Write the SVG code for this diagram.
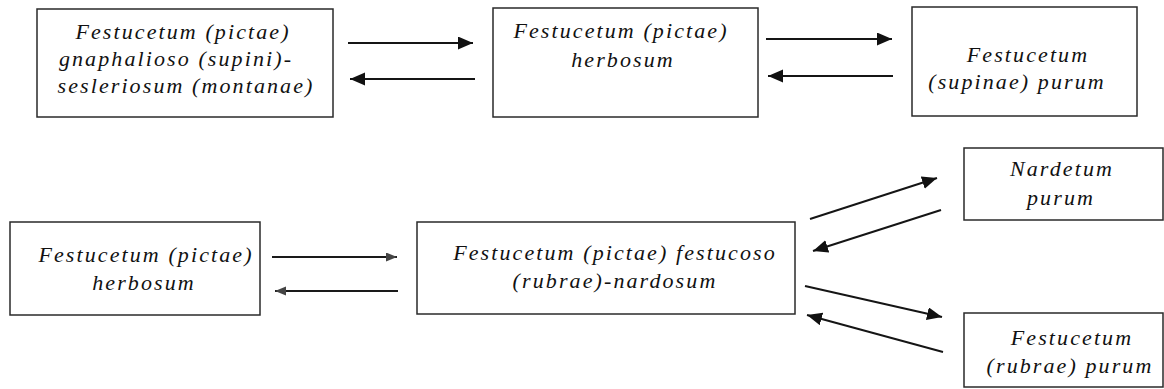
<svg xmlns="http://www.w3.org/2000/svg" width="1164" height="389" viewBox="0 0 1164 389">
<style>
  .box { fill: #ffffff; stroke: #2a2a2a; stroke-width: 1.5; }
  .lbl { font-family: "Liberation Serif", "Times New Roman", serif; font-style: italic; font-size: 22px; letter-spacing: 2.1px; fill: #111111; text-anchor: middle; }
  .arr { stroke: #151515; stroke-width: 2; fill: none; marker-end: url(#head); }
  .arr2 { stroke: #1a1a1a; stroke-width: 1.8; fill: none; marker-end: url(#headSmall); }
</style>
<defs>
  <marker id="head" markerUnits="userSpaceOnUse" markerWidth="16" markerHeight="14" refX="15" refY="6.5" orient="auto">
    <path d="M0,0 L15,6.5 L0,13 z" fill="#111111"/>
  </marker>
  <marker id="headSmall" markerUnits="userSpaceOnUse" markerWidth="12" markerHeight="10" refX="11" refY="4.5" orient="auto">
    <path d="M0,0 L11,4.5 L0,9 z" fill="#444444"/>
  </marker>
</defs>
<rect width="1164" height="389" fill="#ffffff"/>

<g id="node-gnaphalioso">
  <rect class="box" x="37" y="9" width="296" height="108"/>
  <text class="lbl" x="183" y="39">Festucetum (pictae)</text>
  <text class="lbl" x="176" y="66">gnaphalioso (supini)-</text>
  <text class="lbl" x="186" y="93">sesleriosum (montanae)</text>
</g>

<g id="node-herbosum-top">
  <rect class="box" x="493" y="8" width="265" height="109"/>
  <text class="lbl" x="621" y="38">Festucetum (pictae)</text>
  <text class="lbl" x="623" y="67">herbosum</text>
</g>

<g id="node-supinae">
  <rect class="box" x="912" y="7" width="225" height="109"/>
  <text class="lbl" x="1028" y="62">Festucetum</text>
  <text class="lbl" x="1017" y="89">(supinae) purum</text>
</g>

<g id="node-herbosum-bottom">
  <rect class="box" x="10" y="222" width="250" height="93"/>
  <text class="lbl" x="146" y="262">Festucetum (pictae)</text>
  <text class="lbl" x="144" y="290">herbosum</text>
</g>

<g id="node-festucoso">
  <rect class="box" x="417" y="222" width="378" height="92"/>
  <text class="lbl" x="615" y="260">Festucetum (pictae) festucoso</text>
  <text class="lbl" x="615" y="288">(rubrae)-nardosum</text>
</g>

<g id="node-nardetum">
  <rect class="box" x="964" y="148" width="199" height="72"/>
  <text class="lbl" x="1062" y="176">Nardetum</text>
  <text class="lbl" x="1061" y="205">purum</text>
</g>

<g id="node-rubrae">
  <rect class="box" x="964" y="313" width="199" height="74"/>
  <text class="lbl" x="1072" y="345">Festucetum</text>
  <text class="lbl" x="1070" y="373">(rubrae) purum</text>
</g>

<g id="connectors">
  <line class="arr" x1="348" y1="43" x2="473" y2="43"/>
  <line class="arr" x1="475" y1="79" x2="350" y2="79"/>
  <line class="arr" x1="766" y1="39" x2="892" y2="39"/>
  <line class="arr" x1="893" y1="76" x2="768" y2="76"/>
  <line class="arr2" x1="272" y1="257" x2="397" y2="257"/>
  <line class="arr2" x1="398" y1="291" x2="275" y2="291"/>
  <line class="arr" x1="810" y1="219" x2="937" y2="178"/>
  <line class="arr" x1="941" y1="210" x2="813" y2="251"/>
  <line class="arr" x1="805" y1="286" x2="942" y2="317"/>
  <line class="arr" x1="943" y1="352" x2="807" y2="315"/>
</g>
</svg>
